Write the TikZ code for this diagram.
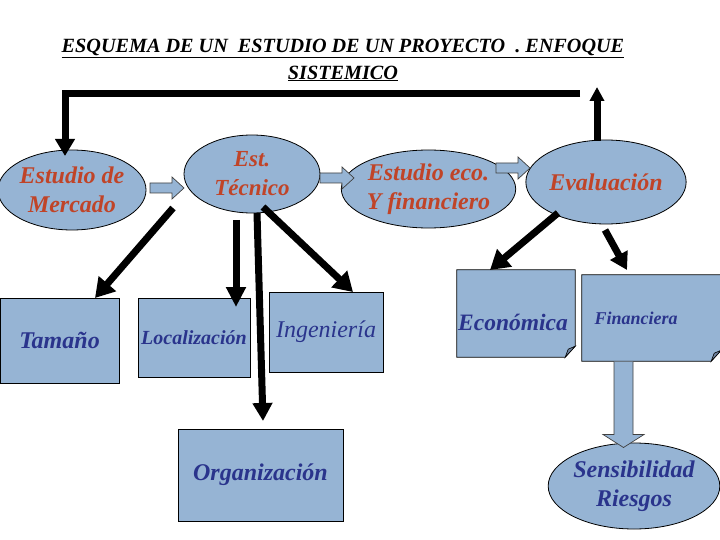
\documentclass[tikz,border=0pt]{standalone}
\usepackage{fontspec}
\setmainfont{Liberation Serif}
\usetikzlibrary{arrows.meta,shapes.geometric,calc}
\definecolor{boxblue}{RGB}{150,180,212}
\definecolor{txtred}{RGB}{192,68,40}
\definecolor{txtblue}{RGB}{42,52,140}
\definecolor{folddark}{RGB}{110,130,158}
\begin{document}
\begin{tikzpicture}[x=1pt,y=-1pt,
  ell/.style={ellipse,draw=black,line width=0.8pt,fill=boxblue,inner sep=0pt,align=center,text=txtred,font=\fontsize{24}{29}\selectfont\bfseries\itshape},
  box/.style={rectangle,draw=black,line width=0.8pt,fill=boxblue,inner sep=0pt,align=center,text=txtblue,font=\fontsize{24}{29}\selectfont\bfseries\itshape},
  plain/.style={rectangle,inner sep=0pt},
  btxt/.style={text=txtblue,inner sep=0pt,font=\fontsize{24}{29}\selectfont\bfseries\itshape},
  thk/.style={line width=7pt,-{Triangle[width=22pt,length=19pt]}},
  blk/.style={fill=boxblue,draw=black!75,line width=0.7pt,line join=miter},
]
\useasboundingbox (0,0) rectangle (720,540);

% title
\node[font=\fontsize{20.2}{27}\selectfont\bfseries\itshape,align=center,inner sep=0pt] (title) at (343,60)
  {\underline{ESQUEMA DE UN\ \ ESTUDIO DE UN PROYECTO\ \ . ENFOQUE}\\\underline{SISTEMICO}};

% ellipses
\node[ell,minimum width=145pt,minimum height=80pt] (merc) at (72,190) {Estudio de\\Mercado};
\node[ell,minimum width=136pt,minimum height=78pt,font=\fontsize{23}{29}\selectfont\bfseries\itshape] (tec) at (252,174) {Est.\\Técnico};
\node[ell,minimum width=147pt,minimum height=78pt] (eco) at (428.5,189) {Estudio eco.\\Y financiero};
\node[ell,minimum width=141pt,minimum height=84pt] (eva) at (606,182) {Evaluación};
\node[ell,minimum width=168pt,minimum height=86pt,text=txtblue] (sens) at (634,486) {Sensibilidad\\Riesgos};

% boxes
\node[box,minimum width=119pt,minimum height=85pt] (tam) at (59.5,340.5) {Tamaño};
\node[box,minimum width=112pt,minimum height=79pt,font=\fontsize{20}{24}\selectfont\bfseries\itshape] (loc) at (194,337.5) {Localización};
\node[box,minimum width=114pt,minimum height=80pt,font=\fontsize{24}{29}\selectfont\itshape] (ing) at (326,332) {Ingeniería};
\node[box,minimum width=165pt,minimum height=92pt,font=\fontsize{24}{29}\selectfont\bfseries\itshape] (org) at (260.5,475) {Organización};

% folded boxes
\node[plain,minimum width=118pt,minimum height=87pt] (econ) at (516,313.5) {};
\node[plain,minimum width=139pt,minimum height=86pt] (fin) at (651.5,318) {};
\foreach \n in {econ,fin}{
  \filldraw[fill=boxblue,line width=0.8pt] (\n.north west) -- (\n.north east) -- ($(\n.south east)+(0,-11)$)
     -- ($(\n.south east)+(-10,0)$) -- (\n.south west) -- cycle;
  \filldraw[fill=folddark,line width=0.6pt] ($(\n.south east)+(-10,0)$) -- ($(\n.south east)+(-7,-8)$)
     -- ($(\n.south east)+(0,-11)$) -- cycle;
}
\node[btxt,font=\fontsize{23.5}{29}\selectfont\bfseries\itshape] (econT) at (513,322) {Económica};
\node[btxt,font=\fontsize{18}{22}\selectfont\bfseries\itshape] (finT) at (636,318) {Financiera};

% block arrows (hollow, light blue)
\coordinate (m2t) at (150,188);
\coordinate (t2e) at (320,178);
\coordinate (e2v) at (496,168);
\foreach \c in {m2t,t2e,e2v}{
  \draw[blk] (\c) ++(0,-5) -- ++(22,0) -- ++(0,-6) -- ++(12,11) -- ++(-12,11) -- ++(0,-6) -- ++(-22,0) -- cycle;
}
\coordinate (finOut) at (623.5,361);
\fill[boxblue] (finOut) ++(-9.5,0.5) -- ++(0,73) -- ++(-11,0) -- ++(20.5,13) -- ++(20.5,-13) -- ++(-11,0) -- ++(0,-73) -- cycle;
\draw[draw=black!75,line width=0.7pt] (finOut) ++(-9.5,0.5) -- ++(0,73) -- ++(-11,0) -- ++(20.5,13) -- ++(20.5,-13) -- ++(-11,0) -- ++(0,-73);

% black arrows
\coordinate (fbR) at (580,94);
\coordinate (fbL) at (65,94);
\coordinate (mercTop) at (65,156);
\draw[thk,line join=miter,-{Triangle[width=19pt,length=17pt]}] (fbR) -- (fbL) -- (mercTop);
\coordinate (evaTop) at (597,141);
\coordinate (evaUp) at (597,87);
\draw[thk,-{Triangle[width=14pt,length=14pt]}] (evaTop) -- (evaUp);

\coordinate (tamS) at (173,208);
\coordinate (tamE) at (95,298);
\draw[thk] (tamS) -- (tamE);
\coordinate (locS) at (236,220);
\coordinate (locE) at (236,307);
\draw[thk,-{Triangle[width=19pt,length=20pt]}] (locS) -- (locE);
\coordinate (orgS) at (257,213);
\coordinate (orgE) at (263,421);
\draw[thk,-{Triangle[width=19pt,length=18pt]}] (orgS) -- (orgE);
\coordinate (ingS) at (263,207);
\coordinate (ingE) at (353,292);
\draw[thk] (ingS) -- (ingE);
\coordinate (econS) at (558,213);
\coordinate (econE) at (490,270);
\draw[thk] (econS) -- (econE);
\coordinate (finS) at (605,230);
\coordinate (finE) at (627,270);
\draw[thk,-{Triangle[width=19pt,length=17pt]}] (finS) -- (finE);
\end{tikzpicture}
\end{document}
